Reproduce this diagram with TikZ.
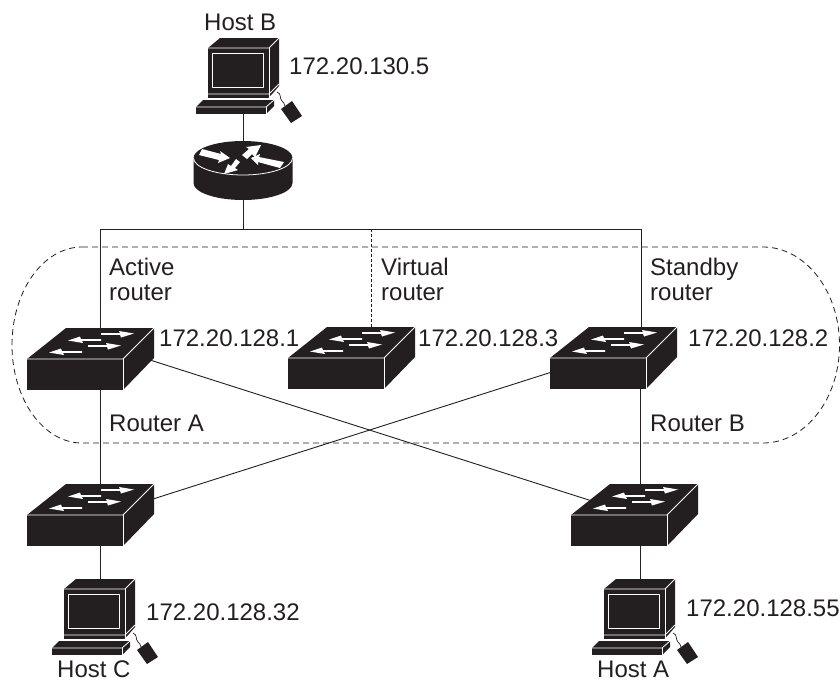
\documentclass[tikz,border=0pt]{standalone}
\usepackage{fontspec}
\setmainfont{Liberation Sans}
\usetikzlibrary{backgrounds}
\definecolor{ink}{HTML}{231F20}
\newcommand{\rightdart}[3]{\fill[white] (#1,#2-0.8) -- (#3-14,#2-0.8) -- (#3-15,#2-3) -- (#3,#2-0.5) -- (#3-13,#2+3.5) -- (#3-14,#2+0.8) -- (#1,#2+0.8) -- cycle;}
\newcommand{\leftdart}[3]{\fill[white] (#1,#2-0.8) -- (#3+13,#2-0.8) -- (#3+12,#2-3.5) -- (#3,#2+0.5) -- (#3+15,#2+3) -- (#3+14,#2+0.8) -- (#1,#2+0.8) -- cycle;}
\tikzset{
  x=1pt,y=-1pt,
  flat text/.style={anchor=west,inner sep=0pt,font=\fontsize{24}{25}\selectfont,text=ink},
  label text/.style={flat text,align=left},
  wire/.style={draw=ink,line width=0.9pt},
  ring/.style={draw=ink,line width=0.8pt,dash pattern=on 6pt off 4pt},
  white edge/.style={draw=white,line width=0.8pt,line join=round},
  switchbox/.pic={
    \fill[ink] (0,0) -- (39,-31) -- (127,-31) -- (96,0) -- cycle;
    \fill[ink] (0,0) rectangle (96,31);
    \fill[ink] (96,0) -- (127,-31) -- (127,-1) -- (96,31) -- cycle;
    \draw[white edge] (0,0) -- (96,0) -- (127,-31);
    \draw[white edge] (96,0) -- (96,31);
    \rightdart{74}{-25}{107}
    \leftdart{74}{-19}{41}
    \rightdart{61}{-13}{94}
    \leftdart{55}{-7}{22}
  },
  hostpc/.pic={
    \fill[ink] (0,0) -- (12,-10) -- (71,-10) -- (61,0) -- cycle;
    \fill[ink] (0,0) rectangle (61,50);
    \fill[ink] (61,0) -- (71,-10) -- (71,38) -- (61,50) -- cycle;
    \fill[ink] (-12,59) -- (-5,52) -- (66,52) -- (58,59) -- cycle;
    \fill[ink] (-12,59) rectangle (58,66);
    \fill[ink] (58,59) -- (66,52) -- (66,58) -- (58,66) -- cycle;
    \fill[ink] (73,61) -- (84,53) -- (94,68) -- (83,75) -- cycle;
    \draw[wire,line width=0.7pt] (69,44) .. controls (74,46) and (71,50) .. (74,53) .. controls (75,55) and (77,55) .. (77,58);
    \draw[white edge] (0,0) -- (61,0) -- (71,-10);
    \draw[white edge] (61,0) -- (61,50);
    \draw[white edge] (4,5) rectangle (55,39);
    \draw[white edge] (0,46) -- (61,46) -- (71,36);
    \draw[white edge] (61,50) -- (71,40);
    \draw[white edge] (0,50) -- (61,50);
    \draw[white edge] (-12,59) -- (58,59) -- (66,52);
    \draw[white edge] (58,59) -- (58,66);
  },
  routerdisc/.pic={
    \fill[ink] (-49.5,0) -- (-49.5,25) arc[start angle=180,end angle=0,x radius=49.5,y radius=17] -- (49.5,0) -- cycle;
    \fill[ink] (0,0) ellipse[x radius=49.5,y radius=17];
    \draw[white edge] (-49.5,0) arc[start angle=180,end angle=0,x radius=49.5,y radius=17];
    \fill[white] (-41,-9) -- (-22,-4) -- (-23,-7) -- (-13,0) -- (-25,5) -- (-24,2) -- (-44,-3) -- cycle;
    \fill[white] (-1,-3) -- (6,-9) -- (3,-11) -- (18,-13) -- (12,-1) -- (9,-4) -- (4,1) -- cycle;
    \fill[white] (-3,4) -- (-8,10) -- (-5,12) -- (-19,16) -- (-15,6) -- (-12,8) -- (-7,1) -- cycle;
    \fill[white] (8,0) -- (17,-4) -- (16,-1) -- (41,4) -- (37,10) -- (15,4) -- (15,7) -- cycle;
  }
}
\begin{document}
\begin{tikzpicture}
\useasboundingbox (0,0) rectangle (840,683);
% devices
\pic at (243,158) {routerdisc};
\pic at (208,48) {hostpc};
\pic at (64,589) {hostpc};
\pic at (604,589) {hostpc};
\pic at (27,359) {switchbox};
\pic at (288,358) {switchbox};
\pic at (550,358) {switchbox};
\pic at (27,515) {switchbox};
\pic at (571,515) {switchbox};
% connection points
\coordinate (hostB) at (243,112);
\coordinate (routerTop) at (243,145);
\coordinate (routerBot) at (243,198);
\coordinate (busMid) at (243,229);
\coordinate (busA) at (100,229);
\coordinate (busV) at (371,229);
\coordinate (busS) at (641,229);
\coordinate (swAtop) at (100,330);
\coordinate (swAbot) at (100,388);
\coordinate (swVtop) at (371,330);
\coordinate (swStop) at (641,330);
\coordinate (swSbot) at (640,387);
\coordinate (swStoC) at (555,371);
\coordinate (swCtop) at (100,487);
\coordinate (swCbot) at (100,544);
\coordinate (swCe) at (153,499);
\coordinate (swDtop) at (640,487);
\coordinate (swDbot) at (640,544);
\coordinate (swDw) at (592,501);
\coordinate (swAe) at (150,360);
\coordinate (hostCtop) at (100,581);
\coordinate (hostAtop) at (640,581);
\coordinate (ringTL) at (82,247);
\coordinate (ringTR) at (763,247);
\coordinate (ringBL) at (82,443);
% connectors
\begin{scope}[on background layer]
\draw[wire] (hostB) -- (routerTop);
\draw[wire] (routerBot) -- (busMid);
\draw[wire] (swAtop) -- (busA) -- (busS) -- (swStop);
\draw[wire,dash pattern=on 3pt off 2pt] (busV) -- (swVtop);
\draw[wire] (swAbot) -- (swCtop);
\draw[wire] (swSbot) -- (swDtop);
\draw[wire] (swCbot) -- (hostCtop);
\draw[wire] (swDbot) -- (hostAtop);
\draw[wire] (swAe) -- (swDw);
\draw[wire] (swCe) -- (swStoC);
\draw[ring] (ringTL) -- (ringTR) arc[start angle=-90,end angle=90,x radius=76.5,y radius=98] -- (ringBL) arc[start angle=90,end angle=270,x radius=70,y radius=98] -- cycle;
\end{scope}
% labels
\node[flat text] (lHostB) at (204,22) {Host B};
\node[flat text] (lB) at (289,66) {172.20.130.5};
\node[label text] (lAct) at (109,279.5) {Active\\router};
\node[label text] (lVir) at (381,279.5) {Virtual\\router};
\node[label text] (lSta) at (650,279.5) {Standby\\router};
\node[flat text] (lA1) at (159,338) {172.20.128.1};
\node[flat text] (lV1) at (418,338) {172.20.128.3};
\node[flat text] (lS1) at (688,338) {172.20.128.2};
\node[flat text] (lRA) at (109,423) {Router A};
\node[flat text] (lRB) at (650,423) {Router B};
\node[flat text] (lC1) at (146,612) {172.20.128.32};
\node[flat text] (lA2) at (686,608) {172.20.128.55};
\node[flat text] (lHC) at (57,669) {Host C};
\node[flat text] (lHA) at (597,669) {Host A};
\end{tikzpicture}
\end{document}
